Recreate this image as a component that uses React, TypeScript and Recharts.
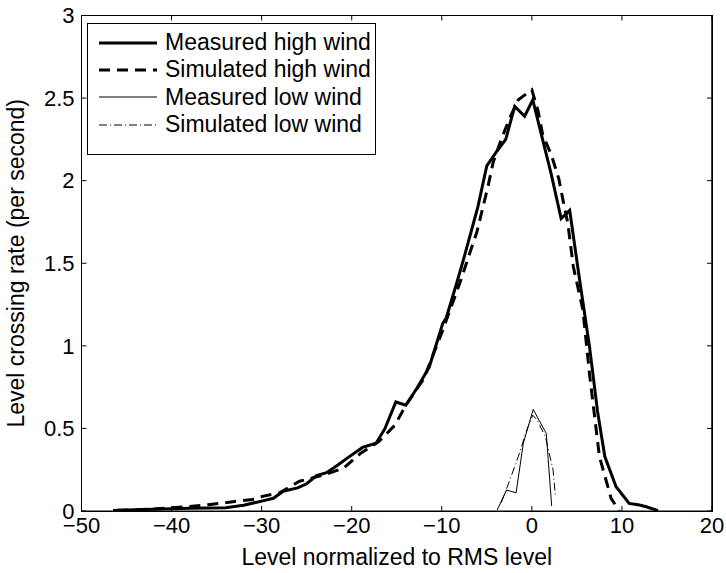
import { Line, LineChart, XAxis, YAxis, Label, CartesianGrid } from "recharts";

// level (x) and crossing rate (y)
const measuredHighX = [
  -46.5, -44, -42, -40, -38, -36, -34, -32, -30, -28.7, -27.6, -26, -25, -23.9, -22.8,
  -21.5, -20.5, -18.8, -17.3, -16.3, -15.1, -14.0, -12.8, -11.4, -9.9, -9.5, -8.4, -7.6,
  -6.0, -5.0, -4.0, -2.9, -1.9, -0.8, 0.1, 1.1, 2.15, 3.25, 4.2, 5.3, 6.4, 7.3, 8.1,
  9.35, 10.8, 11.95, 12.7, 14,
];
const measuredHighY = [
  0.003, 0.008, 0.01, 0.014, 0.016, 0.018, 0.02, 0.035, 0.06, 0.077, 0.12, 0.14, 0.165,
  0.215, 0.232, 0.28, 0.32, 0.385, 0.41, 0.5, 0.66, 0.64, 0.74, 0.87, 1.135, 1.17, 1.37,
  1.52, 1.84, 2.09, 2.17, 2.25, 2.45, 2.39, 2.49, 2.27, 2.04, 1.77, 1.82, 1.4, 0.995,
  0.6, 0.33, 0.147, 0.046, 0.036, 0.026, 0.002,
];

const simulatedHighX = [
  -46, -42, -38.3, -35.7, -33.2, -31, -29.8, -28, -25.8, -23, -20.9, -19, -17, -15.2,
  -14, -12, -10, -8, -6.9, -6.1, -4.85, -4.3, -3.4, -2.45, -1.5, 0, 0.7, 1.2, 2.2, 3.0,
  3.5, 4.0, 4.6, 5.66, 6.4, 7.5, 8.8, 9.7,
];
const simulatedHighY = [
  0.004, 0.012, 0.026, 0.04, 0.056, 0.07, 0.09, 0.11, 0.18, 0.22, 0.26, 0.35, 0.42, 0.52,
  0.64, 0.8, 1.08, 1.38, 1.56, 1.69, 1.97, 2.11, 2.25, 2.38, 2.49, 2.55, 2.42, 2.28, 2.15,
  2.01, 1.87, 1.74, 1.48, 1.22, 0.83, 0.33, 0.077, 0.0,
];

const measuredLowX = [-3.85, -2.8, -1.75, -0.95, 0.15, 1.6, 2.2];
const measuredLowY = [0.006, 0.127, 0.11, 0.41, 0.615, 0.47, 0.03];

const simulatedLowX = [-3.4, -2.5, -1.5, -0.5, 0.1, 0.6, 1.5, 1.8, 2.35, 2.6];
const simulatedLowY = [0.05, 0.18, 0.33, 0.5, 0.58, 0.55, 0.45, 0.38, 0.25, 0.1];

const xTicks = [-50, -40, -30, -20, -10, 0, 10, 20];
const yTicks = [0, 0.5, 1, 1.5, 2, 2.5, 3];

const legendNames = [
  "Measured high wind",
  "Simulated high wind",
  "Measured low wind",
  "Simulated low wind",
];

const pairs = (xs: number[], ys: number[]) => xs.map((x, i) => ({ x, y: ys[i] }));

const measuredHigh = pairs(measuredHighX, measuredHighY);
const simulatedHigh = pairs(simulatedHighX, simulatedHighY);
const measuredLow = pairs(measuredLowX, measuredLowY);
const simulatedLow = pairs(simulatedLowX, simulatedLowY);

const FONT = '"Liberation Sans", Arial, Helvetica, sans-serif';

const styles = [
  { width: 3, dash: undefined },
  { width: 3, dash: "11 7" },
  { width: 1, dash: undefined },
  { width: 1, dash: "8 3 1 3" },
];

const fmtX = (v: number) => (v < 0 ? "\u2212" + Math.abs(v) : String(v));

const LegendBox = () => (
  <div
    style={{
      position: "absolute",
      left: 87,
      top: 23,
      width: 287,
      height: 125,
      border: "1px solid #000",
      background: "#fff",
      fontFamily: FONT,
      fontSize: 23,
      paddingTop: 5,
      boxSizing: "content-box",
    }}
  >
    {legendNames.map((name, i) => (
      <div key={name} style={{ display: "flex", alignItems: "center", height: 27.3 }}>
        <svg width={77} height={20} style={{ flex: "none" }}>
          <line
            x1={11}
            x2={69}
            y1={10}
            y2={10}
            stroke="#000"
            strokeWidth={styles[i].width}
            strokeDasharray={styles[i].dash}
          />
        </svg>
        <span style={{ whiteSpace: "nowrap", lineHeight: "23px" }}>{name}</span>
      </div>
    ))}
  </div>
);

// box around the plot area (MATLAB "box on")
const PlotFrame = () => (
  <div
    style={{
      position: "absolute",
      left: 81,
      top: 15,
      width: 632,
      height: 497,
      border: "1px solid #000",
      boxSizing: "border-box",
      pointerEvents: "none",
    }}
  />
);

export default function App() {
  const tickStyle = { fill: "#000", fontSize: 22, fontFamily: FONT };
  return (
    <div style={{ position: "absolute", left: 0, top: 0, width: 726, height: 573 }}>
      <LineChart width={726} height={573} margin={{ top: 0, right: 0, bottom: 0, left: 0 }}>
        <CartesianGrid stroke="#000" strokeWidth={1} horizontalValues={[3]} verticalValues={[20]} />
        <XAxis
          dataKey="x"
          type="number"
          domain={[-50, 20]}
          ticks={xTicks}
          tickFormatter={fmtX}
          height={62}
          tickSize={-5}
          tickMargin={11}
          tick={tickStyle}
          stroke="#000"
        >
          <Label
            content={({ viewBox }: any) => (
              <text
                x={viewBox.x + viewBox.width / 2}
                y={viewBox.y + 54}
                textAnchor="middle"
                fontSize={23}
                fontFamily={FONT}
                fill="#000"
              >
                Level normalized to RMS level
              </text>
            )}
          />
        </XAxis>
        <XAxis
          xAxisId="top"
          dataKey="x"
          orientation="top"
          type="number"
          domain={[-50, 20]}
          ticks={xTicks}
          tickFormatter={() => ""}
          height={15.5}
          tickSize={-5}
          stroke="#000"
        />
        <YAxis
          type="number"
          domain={[0, 3]}
          ticks={yTicks}
          width={81.5}
          tickSize={-5}
          tickMargin={12}
          tick={tickStyle}
          stroke="#000"
        >
          <Label
            content={({ viewBox }: any) => {
              const cx = 23.5;
              const cy = viewBox.y + viewBox.height / 2;
              return (
                <text
                  x={cx}
                  y={cy}
                  textAnchor="middle"
                  transform={`rotate(-90 ${cx} ${cy})`}
                  fontSize={23}
                  fontFamily={FONT}
                  fill="#000"
                >
                  Level crossing rate (per second)
                </text>
              );
            }}
          />
        </YAxis>
        <YAxis
          yAxisId="right"
          orientation="right"
          type="number"
          domain={[0, 3]}
          ticks={yTicks}
          width={14}
          tickSize={-5}
          tickFormatter={() => ""}
          stroke="#000"
        />
        <Line
          data={measuredHigh}
          dataKey="y"
          name={legendNames[0]}
          stroke="#000"
          strokeWidth={3}
          dot={false}
          activeDot={false}
          type="linear"
          isAnimationActive={false}
        />
        <Line
          data={simulatedHigh}
          dataKey="y"
          name={legendNames[1]}
          stroke="#000"
          strokeWidth={3}
          strokeDasharray="11 7"
          dot={false}
          activeDot={false}
          type="linear"
          isAnimationActive={false}
        />
        <Line
          data={measuredLow}
          dataKey="y"
          name={legendNames[2]}
          stroke="#000"
          strokeWidth={1}
          dot={false}
          activeDot={false}
          type="linear"
          isAnimationActive={false}
        />
        <Line
          xAxisId="top"
          yAxisId="right"
          data={simulatedLow}
          dataKey="y"
          name={legendNames[3]}
          stroke="#000"
          strokeWidth={1}
          strokeDasharray="8 3 1 3"
          dot={false}
          activeDot={false}
          type="linear"
          isAnimationActive={false}
        />
      </LineChart>
      <PlotFrame />
      <LegendBox />
    </div>
  );
}
